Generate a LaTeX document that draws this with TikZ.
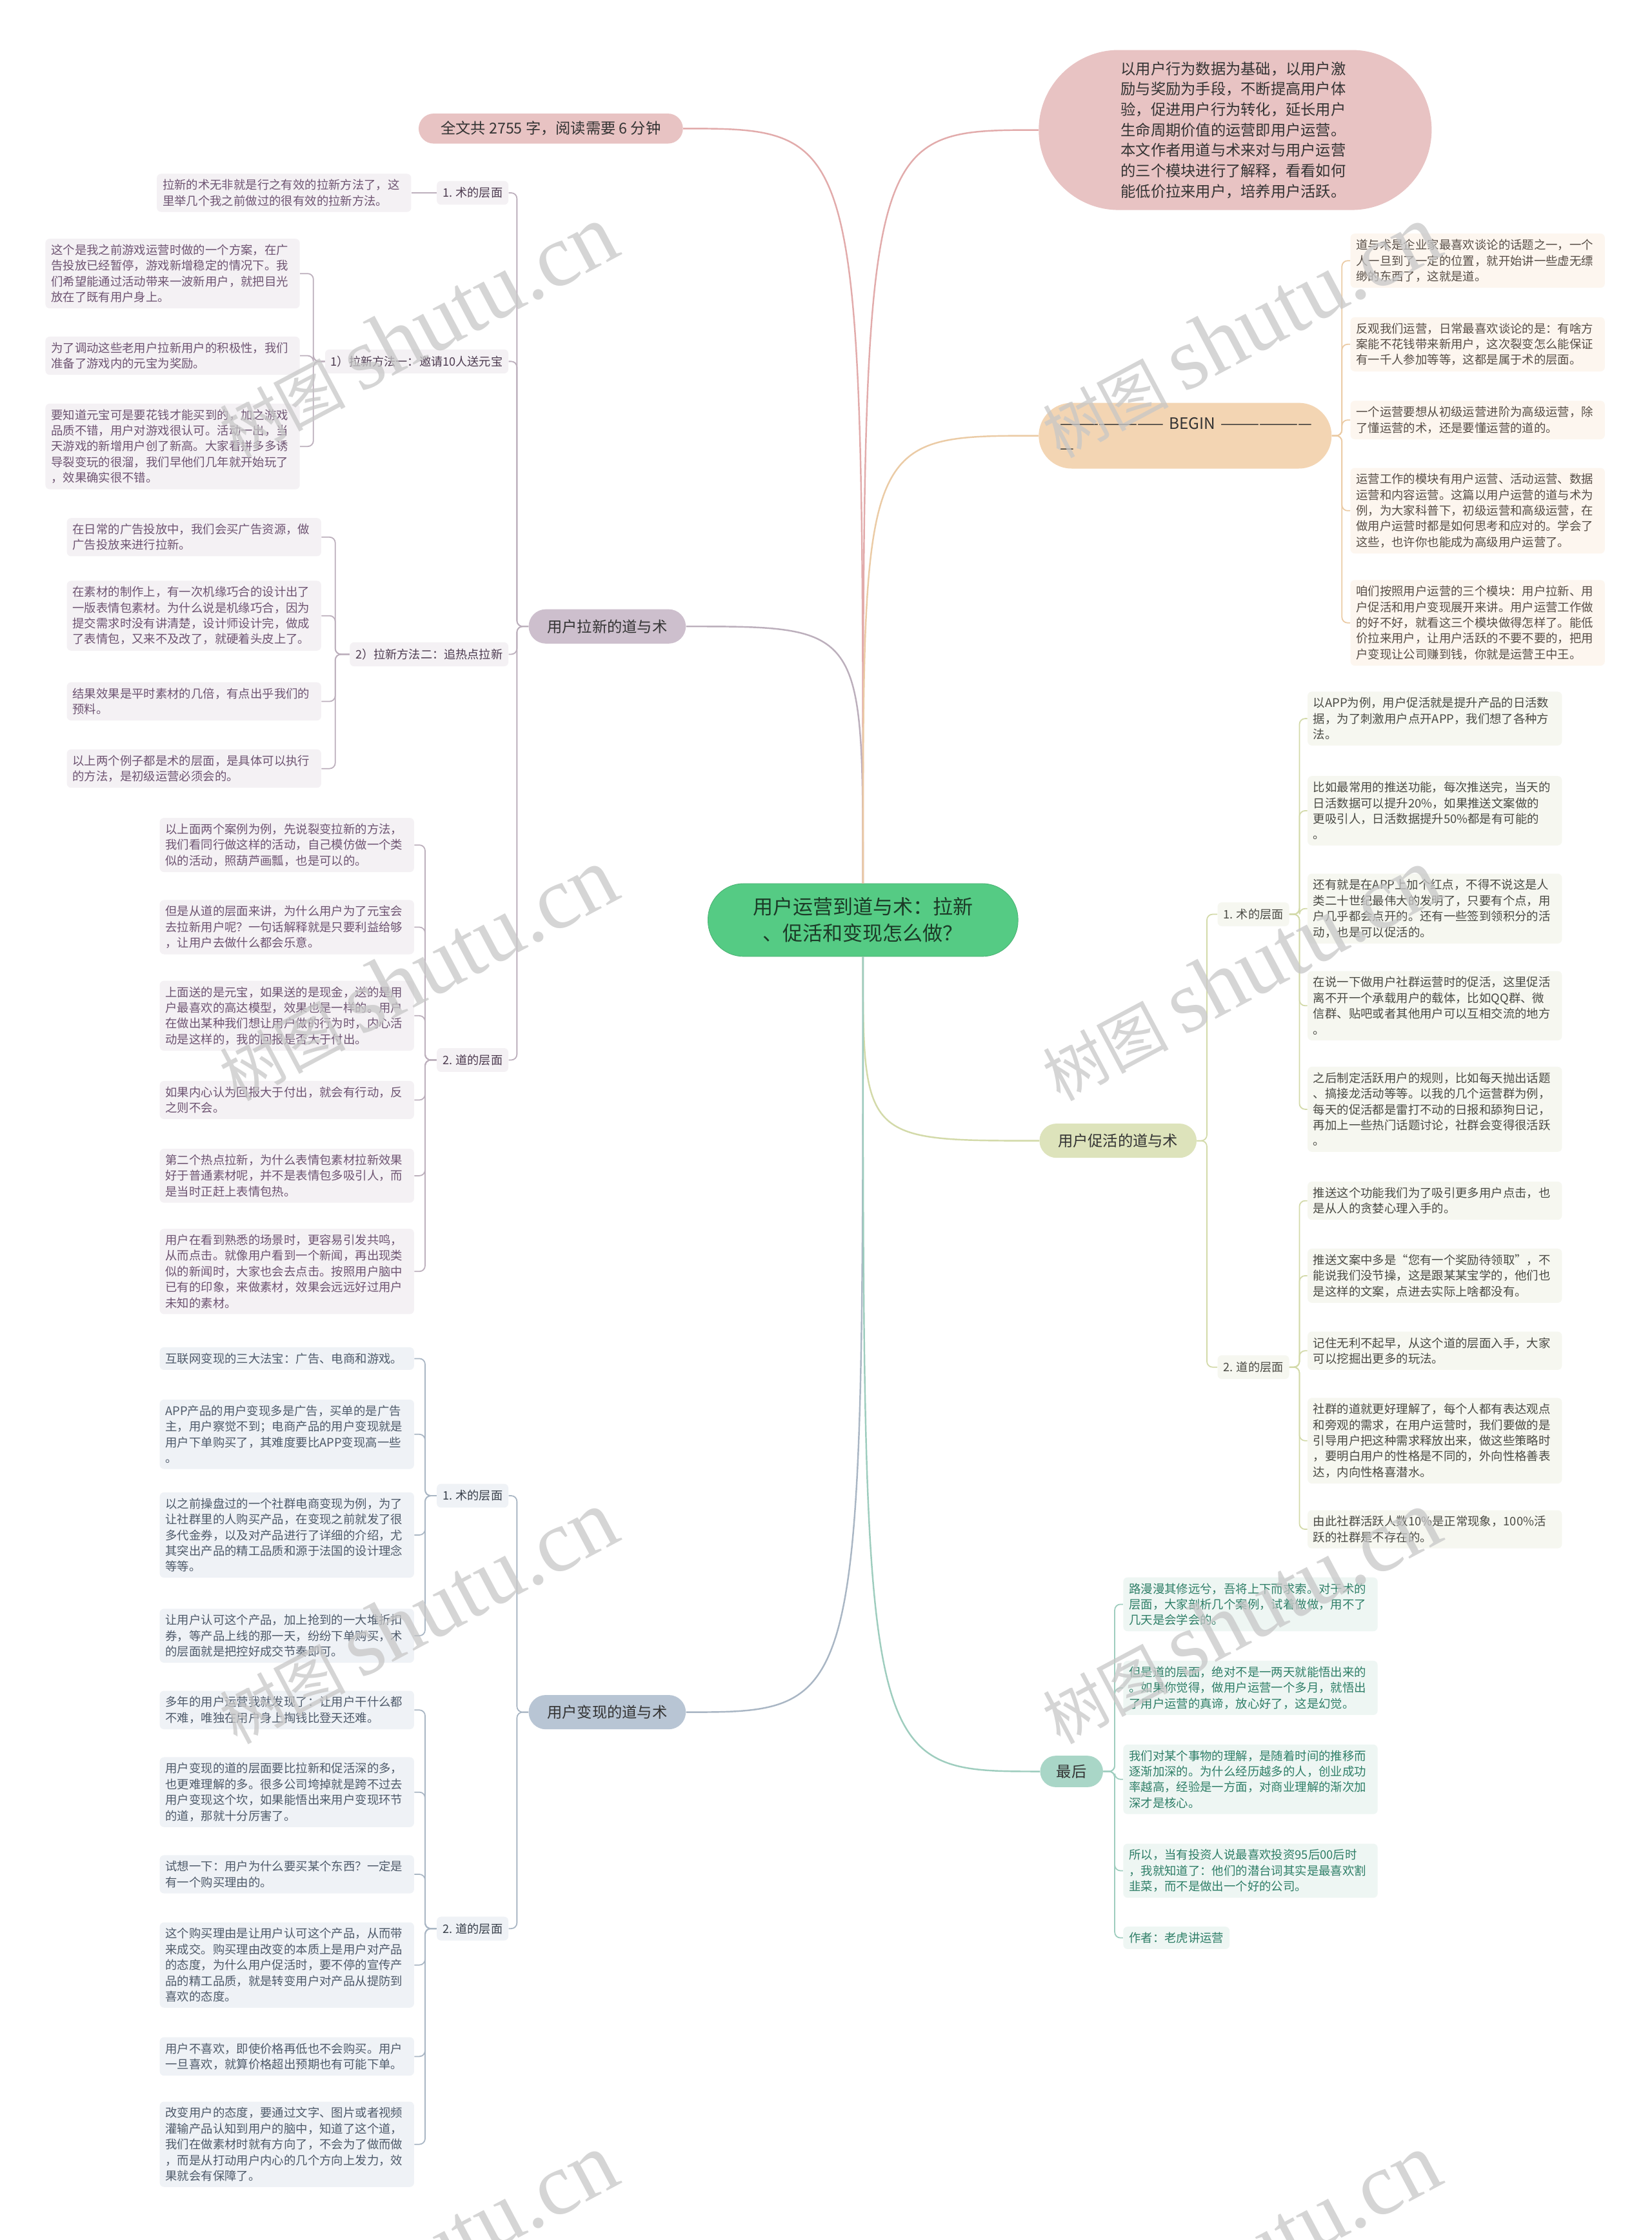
\documentclass[tikz,border=0pt]{standalone}
\usepackage{fontspec}
\setmainfont{Noto Sans CJK SC}
\newfontfamily\wmserif{Liberation Serif}
\usetikzlibrary{calc}
\definecolor{ink}{HTML}{333333}
\definecolor{hubF}{HTML}{55CB84}
\definecolor{hubT}{HTML}{1C3A27}
\definecolor{rosF}{HTML}{E8C3C3}
\definecolor{rosC}{HTML}{E2ABAB}
\definecolor{pulF}{HTML}{CDBFCD}
\definecolor{pulL}{HTML}{F4F1F4}
\definecolor{pulT}{HTML}{6E5472}
\definecolor{pulC}{HTML}{BCAFBC}
\definecolor{monF}{HTML}{B8C5D4}
\definecolor{monL}{HTML}{EFF2F6}
\definecolor{monT}{HTML}{4E5A6A}
\definecolor{monC}{HTML}{A9B6C4}
\definecolor{actF}{HTML}{DDE3BB}
\definecolor{actL}{HTML}{F6F7F0}
\definecolor{actT}{HTML}{4A4A44}
\definecolor{actC}{HTML}{D3DAA9}
\definecolor{begF}{HTML}{F3D5B3}
\definecolor{begL}{HTML}{FDF6EF}
\definecolor{begT}{HTML}{574E47}
\definecolor{begC}{HTML}{EBCBA5}
\definecolor{endF}{HTML}{A9D6C7}
\definecolor{endL}{HTML}{EEF6F3}
\definecolor{endT}{HTML}{2E7E67}
\definecolor{endC}{HTML}{9ECDBE}
\tikzset{
  box/.style   ={rounded corners=3pt, align=left, inner xsep=4pt, inner ysep=4pt,
                 font=\fontsize{8.3}{11}\selectfont},
  leaf/.style  ={box, text width=170pt},
  pl/.style    ={leaf, fill=pulL, text=pulT},
  ml/.style    ={leaf, fill=monL, text=monT},
  bl/.style    ={leaf, fill=begL, text=begT},
  al/.style    ={leaf, fill=actL, text=actT},
  zl/.style    ={leaf, fill=endL, text=endT},
  tag/.style   ={box, inner ysep=4.5pt, font=\fontsize{8.2}{10}\selectfont},
  tp/.style    ={tag, fill=pulL, text=pulT!70!black},
  tm/.style    ={tag, fill=monL, text=monT!70!black},
  ta/.style    ={tag, fill=actL, text=actT},
  topic/.style ={rounded corners=12pt, align=center, inner sep=2pt, minimum width=110pt,
                 minimum height=24pt, font=\fontsize{10.5}{13}\selectfont, text=ink},
  hub/.style   ={fill=hubF, draw=hubF!88!black, line width=.4pt, rounded corners=25pt,
                 align=center, minimum width=217pt, minimum height=51pt,
                 font=\fontsize{14}{18.5}\selectfont, text=hubT},
  bubble/.style={fill=rosF, rounded corners=56pt, align=left, text width=160pt,
                 minimum width=275pt, minimum height=112pt,
                 font=\fontsize{10.5}{14.3}\selectfont, text=ink},
  beg/.style   ={fill=begF, rounded corners=23pt, align=left, text width=175pt,
                 minimum width=205pt, minimum height=46pt,
                 font=\fontsize{11}{17}\selectfont, text=ink},
  lnk/.style   ={draw=#1, line width=.8pt, rounded corners=4pt},
  br/.style    ={draw=#1, line width=1.1pt},
  wm/.style    ={text=black!22, text opacity=.75, rotate=28, inner sep=0pt},
}
\newcommand{\wmark}{{\fontsize{44}{44}\selectfont 树图}\hspace{10pt}{\wmserif\fontsize{62}{62}\selectfont shutu.cn}}
\begin{document}
\begin{tikzpicture}[x=1pt,y=-1pt]
  \fill[white] (0,0) rectangle (1156,1568);
  \useasboundingbox (0,0) rectangle (1156,1568);
  % centre
  \node[hub](hub) at (604,644){用户运营到道与术：拉新\\、促活和变现怎么做？};
  % left side
  \node[topic, fill=rosF, minimum width=185pt, minimum height=21pt, rounded corners=10.5pt](count) at (385.5,90){全文共 2755 字，阅读需要 6 分钟};
  \node[topic, fill=pulF](pull) at (425,438.5){用户拉新的道与术};
  \node[topic, fill=monF](cash) at (425,1198.5){用户变现的道与术};
  \node[tp, anchor=east](p1) at (356,135){1. 术的层面};
  \node[tp, anchor=east](p2) at (356,253){1）拉新方法一：邀请10人送元宝};
  \node[tp, anchor=east](p3) at (356,458){2）拉新方法二：追热点拉新};
  \node[tp, anchor=east](p4) at (356,742){2. 道的层面};
  \node[tm, anchor=east](m1) at (356,1047){1. 术的层面};
  \node[tm, anchor=east](m2) at (356,1350){2. 道的层面};
  \node[pl, anchor=east](p1a) at (288,135){拉新的术无非就是行之有效的拉新方法了，这\\里举几个我之前做过的很有效的拉新方法。};
  \node[pl, anchor=east](p2a) at (210,191.5){这个是我之前游戏运营时做的一个方案，在广\\告投放已经暂停，游戏新增稳定的情况下。我\\们希望能通过活动带来一波新用户，就把目光\\放在了既有用户身上。};
  \node[pl, anchor=east](p2b) at (210,249){为了调动这些老用户拉新用户的积极性，我们\\准备了游戏内的元宝为奖励。};
  \node[pl, anchor=east](p2c) at (210,312.5){要知道元宝可是要花钱才能买到的，加之游戏\\品质不错，用户对游戏很认可。活动一出，当\\天游戏的新增用户创了新高。大家看拼多多诱\\导裂变玩的很溜，我们早他们几年就开始玩了\\，效果确实很不错。};
  \node[pl, anchor=east](p3a) at (225,376){在日常的广告投放中，我们会买广告资源，做\\广告投放来进行拉新。};
  \node[pl, anchor=east](p3b) at (225,431){在素材的制作上，有一次机缘巧合的设计出了\\一版表情包素材。为什么说是机缘巧合，因为\\提交需求时没有讲清楚，设计师设计完，做成\\了表情包，又来不及改了，就硬着头皮上了。};
  \node[pl, anchor=east](p3c) at (225,491){结果效果是平时素材的几倍，有点出乎我们的\\预料。};
  \node[pl, anchor=east](p3d) at (225,538){以上两个例子都是术的层面，是具体可以执行\\的方法，是初级运营必须会的。};
  \node[pl, anchor=east](p4a) at (290,591.5){以上面两个案例为例，先说裂变拉新的方法，\\我们看同行做这样的活动，自己模仿做一个类\\似的活动，照葫芦画瓢，也是可以的。};
  \node[pl, anchor=east](p4b) at (290,649){但是从道的层面来讲，为什么用户为了元宝会\\去拉新用户呢？一句话解释就是只要利益给够\\，让用户去做什么都会乐意。};
  \node[pl, anchor=east](p4c) at (290,711){上面送的是元宝，如果送的是现金，送的是用\\户最喜欢的高达模型，效果也是一样的。用户\\在做出某种我们想让用户做的行为时，内心活\\动是这样的，我的回报是否大于付出。};
  \node[pl, anchor=east](p4d) at (290,770){如果内心认为回报大于付出，就会有行动，反\\之则不会。};
  \node[pl, anchor=east](p4e) at (290,823){第二个热点拉新，为什么表情包素材拉新效果\\好于普通素材呢，并不是表情包多吸引人，而\\是当时正赶上表情包热。};
  \node[pl, anchor=east](p4f) at (290,890){用户在看到熟悉的场景时，更容易引发共鸣，\\从而点击。就像用户看到一个新闻，再出现类\\似的新闻时，大家也会去点击。按照用户脑中\\已有的印象，来做素材，效果会远远好过用户\\未知的素材。};
  \node[ml, anchor=east](m1a) at (290,951){互联网变现的三大法宝：广告、电商和游戏。};
  \node[ml, anchor=east](m1b) at (290,1004){APP产品的用户变现多是广告，买单的是广告\\主，用户察觉不到；电商产品的用户变现就是\\用户下单购买了，其难度要比APP变现高一些\\。};
  \node[ml, anchor=east](m1c) at (290,1074.5){以之前操盘过的一个社群电商变现为例，为了\\让社群里的人购买产品，在变现之前就发了很\\多代金券，以及对产品进行了详细的介绍，尤\\其突出产品的精工品质和源于法国的设计理念\\等等。};
  \node[ml, anchor=east](m1d) at (290,1145){让用户认可这个产品，加上抢到的一大堆折扣\\券，等产品上线的那一天，纷纷下单购买，术\\的层面就是把控好成交节奏即可。};
  \node[ml, anchor=east](m2a) at (290,1197){多年的用户运营我就发现了：让用户干什么都\\不难，唯独在用户身上掏钱比登天还难。};
  \node[ml, anchor=east](m2b) at (290,1254.5){用户变现的道的层面要比拉新和促活深的多，\\也更难理解的多。很多公司垮掉就是跨不过去\\用户变现这个坎，如果能悟出来用户变现环节\\的道，那就十分厉害了。};
  \node[ml, anchor=east](m2c) at (290,1312){试想一下：用户为什么要买某个东西？一定是\\有一个购买理由的。};
  \node[ml, anchor=east](m2d) at (290,1375.5){这个购买理由是让用户认可这个产品，从而带\\来成交。购买理由改变的本质上是用户对产品\\的态度，为什么用户促活时，要不停的宣传产\\品的精工品质，就是转变用户对产品从提防到\\喜欢的态度。};
  \node[ml, anchor=east](m2e) at (290,1439.5){用户不喜欢，即使价格再低也不会购买。用户\\一旦喜欢，就算价格超出预期也有可能下单。};
  \node[ml, anchor=east](m2f) at (290,1501){改变用户的态度，要通过文字、图片或者视频\\灌输产品认知到用户的脑中，知道了这个道，\\我们在做素材时就有方向了，不会为了做而做\\，而是从打动用户内心的几个方向上发力，效\\果就会有保障了。};
  % right side
  \node[bubble](intro) at (864.5,91){以用户行为数据为基础，以用户激\\励与奖励为手段，不断提高用户体\\验，促进用户行为转化，延长用户\\生命周期价值的运营即用户运营。\\本文作者用道与术来对与用户运营\\的三个模块进行了解释，看看如何\\能低价拉来用户，培养用户活跃。};
  \node[beg](begin) at (829.5,305){\mbox{———————— BEGIN ———————}\\—};
  \node[topic, fill=actF](act) at (782.5,798.5){用户促活的道与术};
  \node[topic, fill=endF, minimum width=44pt, minimum height=22pt, rounded corners=11pt](last) at (750,1240){最后};
  \node[ta, anchor=west](a1) at (852,640){1. 术的层面};
  \node[ta, anchor=west](a2) at (852,957){2. 道的层面};
  \node[bl, anchor=west](b1) at (945,182.5){道与术是企业家最喜欢谈论的话题之一，一个\\人一旦到了一定的位置，就开始讲一些虚无缥\\缈的东西了，这就是道。};
  \node[bl, anchor=west](b2) at (945,241){反观我们运营，日常最喜欢谈论的是：有啥方\\案能不花钱带来新用户，这次裂变怎么能保证\\有一千人参加等等，这都是属于术的层面。};
  \node[bl, anchor=west](b3) at (945,294){一个运营要想从初级运营进阶为高级运营，除\\了懂运营的术，还是要懂运营的道的。};
  \node[bl, anchor=west](b4) at (945,357.5){运营工作的模块有用户运营、活动运营、数据\\运营和内容运营。这篇以用户运营的道与术为\\例，为大家科普下，初级运营和高级运营，在\\做用户运营时都是如何思考和应对的。学会了\\这些，也许你也能成为高级用户运营了。};
  \node[bl, anchor=west](b5) at (945,436){咱们按照用户运营的三个模块：用户拉新、用\\户促活和用户变现展开来讲。用户运营工作做\\的好不好，就看这三个模块做得怎样了。能低\\价拉来用户，让用户活跃的不要不要的，把用\\户变现让公司赚到钱，你就是运营王中王。};
  \node[al, anchor=west](a1a) at (915,503){以APP为例，用户促活就是提升产品的日活数\\据，为了刺激用户点开APP，我们想了各种方\\法。};
  \node[al, anchor=west](a1b) at (915,567.5){比如最常用的推送功能，每次推送完，当天的\\日活数据可以提升20\%，如果推送文案做的\\更吸引人，日活数据提升50\%都是有可能的\\。};
  \node[al, anchor=west](a1c) at (915,636){还有就是在APP上加个红点，不得不说这是人\\类二十世纪最伟大的发明了，只要有个点，用\\户几乎都会点开的。还有一些签到领积分的活\\动，也是可以促活的。};
  \node[al, anchor=west](a1d) at (915,704){在说一下做用户社群运营时的促活，这里促活\\离不开一个承载用户的载体，比如QQ群、微\\信群、贴吧或者其他用户可以互相交流的地方\\。};
  \node[al, anchor=west](a1e) at (915,776.5){之后制定活跃用户的规则，比如每天抛出话题\\、搞接龙活动等等。以我的几个运营群为例，\\每天的促活都是雷打不动的日报和舔狗日记，\\再加上一些热门话题讨论，社群会变得很活跃\\。};
  \node[al, anchor=west](a2a) at (915,840.5){推送这个功能我们为了吸引更多用户点击，也\\是从人的贪婪心理入手的。};
  \node[al, anchor=west](a2b) at (915,893){推送文案中多是“您有一个奖励待领取”，不\\能说我们没节操，这是跟某某宝学的，他们也\\是这样的文案，点进去实际上啥都没有。};
  \node[al, anchor=west](a2c) at (915,945.5){记住无利不起早，从这个道的层面入手，大家\\可以挖掘出更多的玩法。};
  \node[al, anchor=west](a2d) at (915,1008.5){社群的道就更好理解了，每个人都有表达观点\\和旁观的需求，在用户运营时，我们要做的是\\引导用户把这种需求释放出来，做这些策略时\\，要明白用户的性格是不同的，外向性格善表\\达，内向性格喜潜水。};
  \node[al, anchor=west](a2e) at (915,1070.5){由此社群活跃人数10\%是正常现象，100\%活\\跃的社群是不存在的。};
  \node[zl, anchor=west](z1) at (786,1123){路漫漫其修远兮，吾将上下而求索。对于术的\\层面，大家剖析几个案例，试着做做，用不了\\几天是会学会的。};
  \node[zl, anchor=west](z2) at (786,1181.5){但是道的层面，绝对不是一两天就能悟出来的\\。如果你觉得，做用户运营一个多月，就悟出\\了用户运营的真谛，放心好了，这是幻觉。};
  \node[zl, anchor=west](z3) at (786,1245.5){我们对某个事物的理解，是随着时间的推移而\\逐渐加深的。为什么经历越多的人，创业成功\\率越高，经验是一方面，对商业理解的渐次加\\深才是核心。};
  \node[zl, anchor=west](z4) at (786,1309.5){所以，当有投资人说最喜欢投资95后00后时\\，我就知道了：他们的潜台词其实是最喜欢割\\韭菜，而不是做出一个好的公司。};
  \node[box, fill=endL, text=endT, anchor=west](z5) at (786,1356.5){作者：老虎讲运营};
  % main branches
  \draw[br=rosC](hub.north) .. controls (hub.north |- count.east) .. (count.east);
  \draw[br=pulC](hub.north) .. controls (hub.north |- pull.east) .. (pull.east);
  \draw[br=monC](hub.south) .. controls (hub.south |- cash.east) .. (cash.east);
  \draw[br=rosC](hub.north) .. controls (hub.north |- intro.west) .. (intro.west);
  \draw[br=begC](hub.north) .. controls (hub.north |- begin.west) .. (begin.west);
  \draw[br=actC](hub.south) .. controls (hub.south |- act.west) .. (act.west);
  \draw[br=endC](hub.south) .. controls (hub.south |- last.west) .. (last.west);
  % second level
  \draw[lnk=pulC](p1.east) -| ($(pull.west)+(-8,0)$) -- (pull.west);
  \draw[lnk=pulC](p2.east) -| ($(pull.west)+(-8,0)$) -- (pull.west);
  \draw[lnk=pulC](p3.east) -| ($(pull.west)+(-8,0)$) -- (pull.west);
  \draw[lnk=pulC](p4.east) -| ($(pull.west)+(-8,0)$) -- (pull.west);
  \draw[lnk=monC](m1.east) -| ($(cash.west)+(-8,0)$) -- (cash.west);
  \draw[lnk=monC](m2.east) -| ($(cash.west)+(-8,0)$) -- (cash.west);
  \draw[lnk=actC](act.east) -- ++(7,0) |- (a1.west);
  \draw[lnk=actC](act.east) -- ++(7,0) |- (a2.west);
  % leaves
  \draw[lnk=pulC](p1.west) -- (p1a.east);
  \draw[lnk=pulC](p2.west) -- ++(-8,0) |- (p2a.east);
  \draw[lnk=pulC](p2.west) -- ++(-8,0) |- (p2b.east);
  \draw[lnk=pulC](p2.west) -- ++(-8,0) |- (p2c.east);
  \draw[lnk=pulC](p3.west) -- ++(-10,0) |- (p3a.east);
  \draw[lnk=pulC](p3.west) -- ++(-10,0) |- (p3b.east);
  \draw[lnk=pulC](p3.west) -- ++(-10,0) |- (p3c.east);
  \draw[lnk=pulC](p3.west) -- ++(-10,0) |- (p3d.east);
  \draw[lnk=pulC](p4.west) -- ++(-8,0) |- (p4a.east);
  \draw[lnk=pulC](p4.west) -- ++(-8,0) |- (p4b.east);
  \draw[lnk=pulC](p4.west) -- ++(-8,0) |- (p4c.east);
  \draw[lnk=pulC](p4.west) -- ++(-8,0) |- (p4d.east);
  \draw[lnk=pulC](p4.west) -- ++(-8,0) |- (p4e.east);
  \draw[lnk=pulC](p4.west) -- ++(-8,0) |- (p4f.east);
  \draw[lnk=monC](m1.west) -- ++(-8,0) |- (m1a.east);
  \draw[lnk=monC](m1.west) -- ++(-8,0) |- (m1b.east);
  \draw[lnk=monC](m1.west) -- ++(-8,0) |- (m1c.east);
  \draw[lnk=monC](m1.west) -- ++(-8,0) |- (m1d.east);
  \draw[lnk=monC](m2.west) -- ++(-8,0) |- (m2a.east);
  \draw[lnk=monC](m2.west) -- ++(-8,0) |- (m2b.east);
  \draw[lnk=monC](m2.west) -- ++(-8,0) |- (m2c.east);
  \draw[lnk=monC](m2.west) -- ++(-8,0) |- (m2d.east);
  \draw[lnk=monC](m2.west) -- ++(-8,0) |- (m2e.east);
  \draw[lnk=monC](m2.west) -- ++(-8,0) |- (m2f.east);
  \draw[lnk=begC](begin.east) -- ++(7,0) |- (b1.west);
  \draw[lnk=begC](begin.east) -- ++(7,0) |- (b2.west);
  \draw[lnk=begC](begin.east) -- ++(7,0) |- (b3.west);
  \draw[lnk=begC](begin.east) -- ++(7,0) |- (b4.west);
  \draw[lnk=begC](begin.east) -- ++(7,0) |- (b5.west);
  \draw[lnk=actC](a1.east) -- ++(7,0) |- (a1a.west);
  \draw[lnk=actC](a1.east) -- ++(7,0) |- (a1b.west);
  \draw[lnk=actC](a1.east) -- ++(7,0) |- (a1c.west);
  \draw[lnk=actC](a1.east) -- ++(7,0) |- (a1d.west);
  \draw[lnk=actC](a1.east) -- ++(7,0) |- (a1e.west);
  \draw[lnk=actC](a2.east) -- ++(7,0) |- (a2a.west);
  \draw[lnk=actC](a2.east) -- ++(7,0) |- (a2b.west);
  \draw[lnk=actC](a2.east) -- ++(7,0) |- (a2c.west);
  \draw[lnk=actC](a2.east) -- ++(7,0) |- (a2d.west);
  \draw[lnk=actC](a2.east) -- ++(7,0) |- (a2e.west);
  \draw[lnk=endC](last.east) -- ++(8,0) |- (z1.west);
  \draw[lnk=endC](last.east) -- ++(8,0) |- (z2.west);
  \draw[lnk=endC](last.east) -- ++(8,0) |- (z3.west);
  \draw[lnk=endC](last.east) -- ++(8,0) |- (z4.west);
  \draw[lnk=endC](last.east) -- ++(8,0) |- (z5.west);
  % watermarks
  \node[wm](w1) at (292,232){\wmark};
  \node[wm](w2) at (868,232){\wmark};
  \node[wm](w3) at (292,682){\wmark};
  \node[wm](w4) at (868,682){\wmark};
  \node[wm](w5) at (292,1132){\wmark};
  \node[wm](w6) at (868,1132){\wmark};
  \node[wm](w7) at (292,1582){\wmark};
  \node[wm](w8) at (868,1582){\wmark};
\end{tikzpicture}
\end{document}
